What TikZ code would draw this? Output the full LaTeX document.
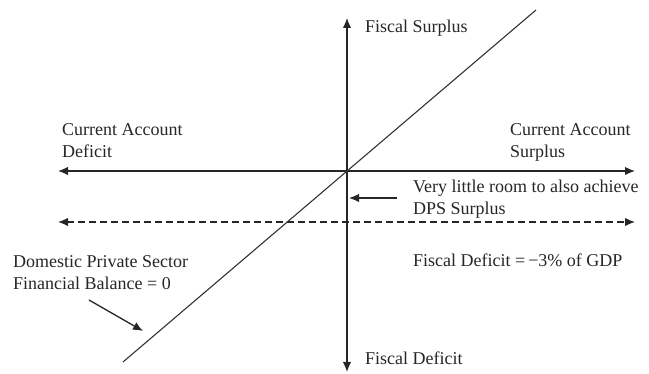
\documentclass[tikz,border=0pt]{standalone}
\usepackage{fontspec}
\setmainfont{Liberation Serif}
\usetikzlibrary{arrows.meta}
\begin{document}
\begin{tikzpicture}[x=1pt,y=-1pt,
  axis/.style={line width=1.3pt,draw=black!85,-{Latex[length=10pt,width=8.5pt]}},
  biarrow/.style={line width=1.3pt,draw=black!85,{Latex[length=10pt,width=8.5pt]}-{Latex[length=10pt,width=8.5pt]}},
  lbl/.style={anchor=base west,inner sep=0pt,text=black!85,font=\fontsize{18}{22}\selectfont,align=left}]
\useasboundingbox (0,0) rectangle (649,374);
% axis end points
\coordinate (vtop) at (347,18);
\coordinate (vbot) at (347,372);
\coordinate (hl) at (58,171);
\coordinate (hr) at (635,171);
\coordinate (dl) at (58,222);
\coordinate (dr) at (635,222);
\coordinate (dtop) at (536,10);
\coordinate (dbot) at (123,362);
\coordinate (roomS) at (397,198);
\coordinate (roomE) at (349,198);
\coordinate (dpsS) at (89,300);
\coordinate (dpsE) at (143,331);
% axes
\draw[biarrow] (vbot) -- (vtop);
\draw[biarrow] (hl) -- (hr);
\draw[biarrow,dash pattern=on 7pt off 4pt] (dl) -- (dr);
\draw[line width=1.1pt,draw=black!80] (dbot) -- (dtop);
\draw[axis] (roomS) -- (roomE);
\draw[axis] (dpsS) -- (dpsE);
% labels (anchor base = baseline of last line)
\node[lbl] (fs) at (365,33) {Fiscal Surplus};
\node[lbl] (fd) at (365,365) {Fiscal Deficit};
\node[lbl] (cad) at (62,158) {Current Account\\Deficit};
\node[lbl] (cas) at (510,158) {Current Account\\Surplus};
\node[lbl] (room) at (413,215) {Very little room to also achieve\\DPS Surplus};
\node[lbl] (dps) at (13,290) {Domestic Private Sector\\Financial Balance = 0};
\node[lbl] (fd3) at (413,267) {Fiscal Deficit =\,−3\% of GDP};
\end{tikzpicture}
\end{document}
